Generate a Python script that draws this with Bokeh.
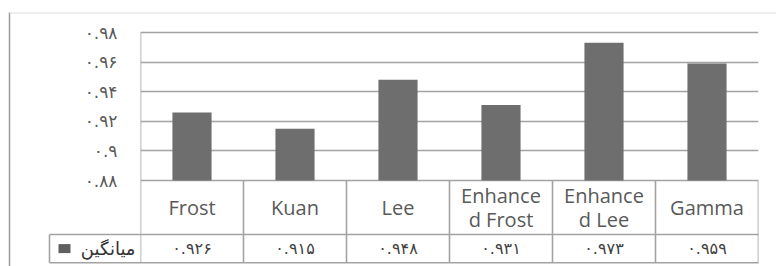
from bokeh.plotting import figure
from bokeh.models import FixedTicker, Range1d, ColumnDataSource
from bokeh.core.properties import value
from bokeh.embed import file_html
from bokeh.resources import INLINE

# ---------------- data ----------------
categories = ["Frost", "Kuan", "Lee", "Enhanced Frost", "Enhanced Lee", "Gamma"]
category_labels = ["Frost", "Kuan", "Lee", "Enhance\nd Frost", "Enhance\nd Lee", "Gamma"]
mean_values = [0.926, 0.915, 0.948, 0.931, 0.973, 0.959]
value_labels = ["۰.۹۲۶", "۰.۹۱۵", "۰.۹۴۸", "۰.۹۳۱", "۰.۹۷۳", "۰.۹۵۹"]
y_ticks = [0.88, 0.9, 0.92, 0.94, 0.96, 0.98]
y_tick_labels = ["۰.۸۸", "۰.۹", "۰.۹۲", "۰.۹۴", "۰.۹۶", "۰.۹۸"]
series_name = "میانگین"

# ---------------- layout (pixels) ----------------
W, H = 776, 266
FRAME_LEFT, FRAME_RIGHT, FRAME_TOP, FRAME_BOTTOM = 140, 18, 12, 3
COL_PX = (W - FRAME_LEFT - FRAME_RIGHT) / 6.0   # width of one category column
PLOT_PX = 148.0           # pixel height of the plotted value span
TOP_GAP_PX = 20.0         # gap between frame top and top gridline
TABLE_PX = H - FRAME_TOP - FRAME_BOTTOM - TOP_GAP_PX - PLOT_PX
ROW1_PX = 54.0
ROW2_PX = TABLE_PX - ROW1_PX - 0.8
LEGEND_PX = 91.0
OUTER_LEFT_PX = 131.0

y0, y1 = y_ticks[0], y_ticks[-1]
u = (y1 - y0) / PLOT_PX   # data units per pixel (y)
cx = 1.0 / COL_PX         # data units per pixel (x)
n = len(categories)
xs = list(range(n))

y_start = y0 - TABLE_PX * u
y_end = y1 + TOP_GAP_PX * u
x_start = -0.5
x_end = n - 0.5

row1_bottom = y0 - ROW1_PX * u
row2_bottom = row1_bottom - ROW2_PX * u
legend_left = x_start - LEGEND_PX * cx
outer_left = x_start - OUTER_LEFT_PX * cx

p = figure(width=W, height=H, output_backend="svg", toolbar_location=None,
           x_range=Range1d(x_start, x_end), y_range=Range1d(y_start, y_end),
           x_axis_location=None,
           min_border_left=FRAME_LEFT, min_border_right=FRAME_RIGHT,
           min_border_top=FRAME_TOP, min_border_bottom=FRAME_BOTTOM)
p.outline_line_color = None
p.background_fill_color = "white"
p.border_fill_color = "white"
p.xgrid.grid_line_color = None

grid_color = "#a3a3a3"
p.ygrid.ticker = FixedTicker(ticks=y_ticks)
p.ygrid.grid_line_color = grid_color
p.ygrid.grid_line_width = 1.6

yax = p.yaxis[0]
yax.ticker = FixedTicker(ticks=y_ticks)
yax.major_label_overrides = {t: lab for t, lab in zip(y_ticks, y_tick_labels)}
yax.axis_line_color = None
yax.major_tick_line_color = None
yax.minor_tick_line_color = None
yax.major_tick_out = 0
yax.major_tick_in = 0
yax.major_label_standoff = 23
yax.major_label_text_font = "DejaVu Sans"
yax.major_label_text_font_size = "17px"
yax.major_label_text_color = "#595959"

# bars
src = ColumnDataSource(dict(x=xs, top=mean_values, lab=category_labels, val=value_labels))
p.vbar(x="x", top="top", bottom=y0, width=0.38, source=src,
       fill_color="#6e6e6e", line_color=None)

# plot-area left line
p.segment(x0=[x_start], y0=[y1], x1=[x_start], y1=[row2_bottom],
          line_color=grid_color, line_width=1.6)

# table lines
col_edges = [i - 0.5 for i in range(n + 1)]
p.segment(x0=col_edges[1:], y0=[y0] * n, x1=col_edges[1:], y1=[row2_bottom] * n,
          line_color=grid_color, line_width=1.6)
extra = []
extra.append(p.segment(x0=[legend_left, legend_left], y0=[row1_bottom, row2_bottom],
                       x1=[x_end, x_end], y1=[row1_bottom, row2_bottom],
                       line_color=grid_color, line_width=1.6))
extra.append(p.segment(x0=[legend_left], y0=[row1_bottom], x1=[legend_left], y1=[row2_bottom],
                       line_color=grid_color, line_width=1.6))
# outer chart border
extra.append(p.segment(x0=[outer_left], y0=[y_end], x1=[outer_left], y1=[y_start - 10 * u],
                       line_color="#9a9a9a", line_width=1.5))
extra.append(p.segment(x0=[outer_left], y0=[y_end - 0.5 * u], x1=[x_end + 30 * cx], y1=[y_end - 0.5 * u],
                       line_color="#dddddd", line_width=1.2))

# table texts
p.text(x="x", y=(y0 + row1_bottom) / 2, text="lab", source=src,
       text_align="center", text_baseline="middle", text_line_height=0.92,
       text_font=value("Open Sans"), text_font_size="20px", text_color="#595959")
p.text(x="x", y=(row1_bottom + row2_bottom) / 2, text="val", source=src,
       text_align="center", text_baseline="middle",
       text_font=value("DejaVu Sans"), text_font_size="16px", text_color="#404040")

# legend key in the table
key_y = (row1_bottom + row2_bottom) / 2
key_x = legend_left + 15 * cx
extra.append(p.segment(x0=[key_x - 6 * cx], y0=[key_y], x1=[key_x + 6 * cx], y1=[key_y],
                       line_color="#5f5f5f", line_width=9, line_cap="butt"))
extra.append(p.text(x=[x_start - 5 * cx], y=[key_y], text=[series_name],
                    text_align="right", text_baseline="middle",
                    text_font=value("DejaVu Sans"), text_font_size="18px", text_color="#333333"))
for r in extra:
    r.level = "annotation"

open("out.html", "w").write(file_html(p, INLINE))
